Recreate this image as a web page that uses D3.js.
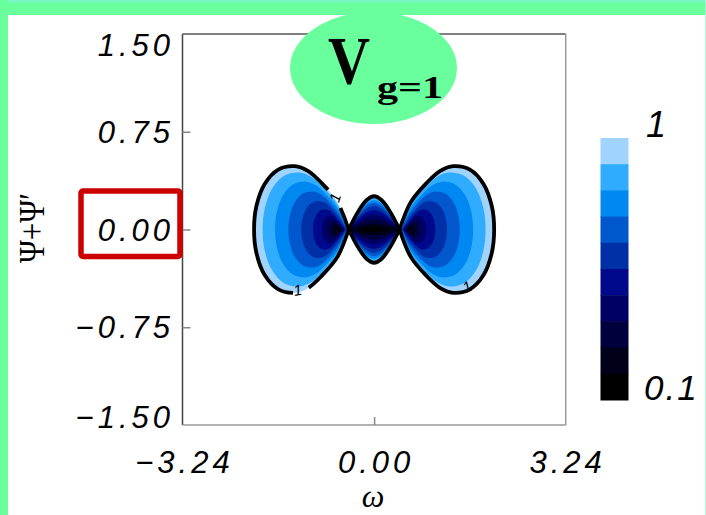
<!DOCTYPE html>
<html>
<head>
<meta charset="utf-8">
<script src="https://cdn.jsdelivr.net/npm/d3@7"></script>
<style>
  html, body { margin: 0; padding: 0; background: #ffffff; }
  svg { display: block; }
</style>
</head>
<body>
<script>
// ---------------- data ----------------
const xDomain = [-3.24, 3.24];
const yDomain = [-1.5, 1.5];
const xTickValues = [-3.24, 0, 3.24];
const xTickLabels = ["\u22123.24", "0.00", "3.24"];
const yTickValues = [1.5, 0.75, 0, -0.75, -1.5];
const yTickLabels = ["1.50", "0.75", "0.00", "\u22120.75", "\u22121.50"];

// contour level colours, from level 1 (outer, light) down to level 0.1 (black)
const levelColors = ["#a0d4ff", "#30acff", "#0088f2", "#0058cc", "#0030a8",
                     "#00088c", "#000064", "#00003c", "#000018", "#000000"];
const colorbarLabels = ["1", "0.1"];

// left lobe: upper half of each filled contour level [omega, psi], tip -> far edge
const lobeLevels = [
  [[-0.43,0],[-0.62,0.21],[-0.89,0.358],[-1.12,0.45],[-1.34,0.486],[-1.62,0.46],[-1.85,0.35],[-1.99,0.18],[-2.03,0]],
  [[-0.44,0],[-0.616,0.189],[-0.859,0.322],[-1.066,0.405],[-1.264,0.437],[-1.516,0.414],[-1.723,0.315],[-1.849,0.162],[-1.885,0]],
  [[-0.45,0],[-0.609,0.159],[-0.813,0.270],[-0.987,0.340],[-1.153,0.367],[-1.364,0.347],[-1.538,0.264],[-1.644,0.136],[-1.674,0]],
  [[-0.46,0],[-0.603,0.126],[-0.765,0.215],[-0.903,0.270],[-1.035,0.292],[-1.203,0.276],[-1.341,0.210],[-1.425,0.108],[-1.449,0]],
  [[-0.47,0],[-0.596,0.095],[-0.718,0.161],[-0.821,0.203],[-0.920,0.219],[-1.046,0.207],[-1.150,0.158],[-1.213,0.081],[-1.231,0]],
  [[-0.48,0],[-0.591,0.066],[-0.676,0.113],[-0.748,0.142],[-0.817,0.153],[-0.906,0.145],[-0.978,0.110],[-1.022,0.057],[-1.035,0]],
  [[-0.50,0],[-0.586,0.044],[-0.643,0.075],[-0.691,0.095],[-0.737,0.102],[-0.796,0.097],[-0.844,0.074],[-0.874,0.038],[-0.882,0]],
  [[-0.52,0],[-0.583,0.028],[-0.619,0.048],[-0.650,0.061],[-0.680,0.066],[-0.718,0.062],[-0.749,0.047],[-0.768,0.024],[-0.773,0]],
  [[-0.54,0],[-0.581,0.018],[-0.604,0.030],[-0.623,0.038],[-0.642,0.041],[-0.666,0.039],[-0.685,0.030],[-0.697,0.015],[-0.701,0]]
];

// centre diamond: upper half of each level, left vertex -> right vertex
const diamondLevels = [
  [[-0.43,0],[-0.27,0.137],[-0.125,0.226],[0,0.255],[0.125,0.226],[0.27,0.137],[0.43,0]],
  [[-0.43,0],[-0.27,0.129],[-0.125,0.213],[0,0.240],[0.125,0.213],[0.27,0.129],[0.43,0]],
  [[-0.43,0],[-0.27,0.121],[-0.125,0.199],[0,0.225],[0.125,0.199],[0.27,0.121],[0.43,0]],
  [[-0.43,0],[-0.27,0.110],[-0.125,0.182],[0,0.205],[0.125,0.182],[0.27,0.110],[0.43,0]],
  [[-0.43,0],[-0.27,0.097],[-0.125,0.160],[0,0.180],[0.125,0.160],[0.27,0.097],[0.43,0]],
  [[-0.43,0],[-0.27,0.081],[-0.125,0.133],[0,0.150],[0.125,0.133],[0.27,0.081],[0.43,0]],
  [[-0.43,0],[-0.27,0.062],[-0.125,0.102],[0,0.115],[0.125,0.102],[0.27,0.062],[0.43,0]],
  [[-0.43,0],[-0.27,0.043],[-0.125,0.071],[0,0.080],[0.125,0.071],[0.27,0.043],[0.43,0]],
  [[-0.43,0],[-0.27,0.024],[-0.125,0.040],[0,0.045],[0.125,0.040],[0.27,0.024],[0.43,0]],
  [[-0.27,0],[-0.17,0.014],[-0.08,0.020],[0,0.022],[0.08,0.020],[0.17,0.014],[0.27,0]]
];

// gaps in the black "1" contour where the labels sit, and the labels
const contourGaps = [
  {w: -0.70, p: 0.226, len: 22},
  {w: -1.25, p: -0.457, len: 17},
  {w: 1.55, p: -0.422, len: 22}
];
const contourLabels = [
  {w: -0.66, p: 0.245, text: "1", angle: -72},
  {w: -1.29, p: -0.465, text: "1", angle: -10},
  {w: 1.57, p: -0.44, text: "1", angle: -25}
];

// ---------------- drawing ----------------
const W = 706, H = 515;
const svg = d3.select("body").append("svg").attr("width", W).attr("height", H);
svg.append("rect").attr("width", W).attr("height", H).attr("fill", "#ffffff");

const x = d3.scaleLinear().domain(xDomain).range([182.5, 565.7]);
const y = d3.scaleLinear().domain(yDomain).range([425, 34]);

const line = d3.line().x(d => x(d[0])).y(d => y(d[1])).curve(d3.curveCatmullRom.alpha(0.5));

function lobePath(upper, side) {
  const lower = upper.slice(0, -1).reverse().map(d => [d[0], -d[1]]);
  const pts = upper.concat(lower).map(d => [side * d[0], d[1]]);
  return line(pts) + "Z";
}
function diamondPath(upper) {
  const lower = upper.slice().reverse().map(d => [d[0], -d[1]]);
  const a = line(upper);
  const b = line(lower).replace(/^M/, "L");
  return a + b + "Z";
}

const gFill = svg.append("g");
[-1, 1].forEach(side => {
  lobeLevels.forEach((lv, i) => {
    gFill.append("path").attr("d", lobePath(lv, side)).attr("fill", levelColors[i]);
  });
});
diamondLevels.forEach((lv, i) => {
  gFill.append("path").attr("d", diamondPath(lv)).attr("fill", levelColors[i]);
});

// black contour lines (level 1)
const gLine = svg.append("g").attr("fill", "none").attr("stroke", "#000")
  .attr("stroke-width", 3.8).attr("stroke-linejoin", "round");
const outlines = [
  gLine.append("path").attr("d", lobePath(lobeLevels[0], -1)),
  gLine.append("path").attr("d", lobePath(lobeLevels[0], 1)),
  gLine.append("path").attr("d", diamondPath(diamondLevels[0]))
];
outlines.forEach(sel => {
  const node = sel.node();
  const L = node.getTotalLength();
  const gaps = [];
  contourGaps.forEach(g => {
    const gx = x(g.w), gy = y(g.p);
    let best = 1e9, bestS = 0;
    for (let s = 0; s <= L; s += 0.5) {
      const pt = node.getPointAtLength(s);
      const d = (pt.x - gx) ** 2 + (pt.y - gy) ** 2;
      if (d < best) { best = d; bestS = s; }
    }
    if (best < 36) gaps.push({s: bestS, len: g.len});
  });
  if (gaps.length) {
    gaps.sort((a, b) => a.s - b.s);
    const dash = [];
    let pos = 0;
    gaps.forEach(g => {
      dash.push(Math.max(0, g.s - g.len / 2 - pos), g.len);
      pos = g.s + g.len / 2;
    });
    dash.push(Math.max(0, L - pos), 0);
    sel.attr("stroke-dasharray", dash.join(" "));
  }
});

// contour labels
contourLabels.forEach(l => {
  svg.append("text")
    .attr("transform", `translate(${x(l.w)},${y(l.p)}) rotate(${l.angle})`)
    .attr("text-anchor", "middle").attr("dy", "0.35em")
    .attr("font-family", "Liberation Sans, sans-serif").attr("font-size", 15)
    .attr("font-style", "italic").attr("fill", "#000").text(l.text);
});

// axes frame
const fx0 = x(xDomain[0]), fx1 = x(xDomain[1]), fy0 = y(yDomain[1]), fy1 = y(yDomain[0]);
svg.append("line").attr("x1", fx0).attr("x2", fx1).attr("y1", fy0).attr("y2", fy0)
  .attr("stroke", "#555").attr("stroke-width", 1.5);
svg.append("line").attr("x1", fx0).attr("x2", fx0).attr("y1", fy0).attr("y2", fy1)
  .attr("stroke", "#444").attr("stroke-width", 1.5);
svg.append("line").attr("x1", fx1).attr("x2", fx1).attr("y1", fy0).attr("y2", fy1)
  .attr("stroke", "#999").attr("stroke-width", 1.5);
svg.append("line").attr("x1", fx0).attr("x2", fx1).attr("y1", fy1).attr("y2", fy1)
  .attr("stroke", "#999").attr("stroke-width", 1.5);

// inward ticks
const yAx = svg.append("g").attr("transform", `translate(${fx0},0)`)
  .call(d3.axisLeft(y).tickValues([0.75, 0, -0.75]).tickSize(-8).tickFormat(""));
yAx.select(".domain").remove();
yAx.selectAll(".tick line").attr("stroke", "#888").attr("stroke-width", 1.5);
const xAx = svg.append("g").attr("transform", `translate(0,${fy1})`)
  .call(d3.axisBottom(x).tickValues([0]).tickSize(-8).tickFormat(""));
xAx.select(".domain").remove();
xAx.selectAll(".tick line").attr("stroke", "#888").attr("stroke-width", 1.5);

// tick labels
const tickFont = "Liberation Sans, Arial, sans-serif";
yTickValues.forEach((v, i) => {
  const cy = Math.min(Math.max(y(v), 44.5), 417);
  svg.append("text").attr("x", 174).attr("y", cy + 11)
    .attr("text-anchor", "end").attr("font-family", tickFont).attr("font-style", "italic")
    .attr("font-size", 31).attr("letter-spacing", 4).attr("fill", "#000")
    .text(yTickLabels[i]);
});
xTickValues.forEach((v, i) => {
  svg.append("text").attr("x", x(v) + 2).attr("y", 473)
    .attr("text-anchor", "middle").attr("font-family", tickFont).attr("font-style", "italic")
    .attr("font-size", 31).attr("letter-spacing", 4).attr("fill", "#000")
    .text(xTickLabels[i]);
});

// axis titles
svg.append("text").attr("x", 373).attr("y", 507).attr("text-anchor", "middle")
  .attr("font-family", "Liberation Serif, serif").attr("font-style", "italic")
  .attr("font-size", 32).attr("fill", "#000").text("\u03C9");
svg.append("text").attr("transform", "translate(44,228) rotate(-90)")
  .attr("text-anchor", "middle").attr("font-family", "Liberation Serif, DejaVu Serif, serif")
  .attr("font-size", 35).attr("textLength", 70).attr("lengthAdjust", "spacingAndGlyphs")
  .attr("fill", "#000").text("\u03A8+\u03A8\u2032");

// title ellipse
svg.append("ellipse").attr("cx", 373.5).attr("cy", 68).attr("rx", 83.5).attr("ry", 56)
  .attr("fill", "#69ff9c");
svg.append("text").attr("x", 328).attr("y", 83)
  .attr("font-family", "Liberation Serif, Times New Roman, serif").attr("font-weight", "bold")
  .attr("font-size", 68).attr("textLength", 42).attr("lengthAdjust", "spacingAndGlyphs")
  .attr("fill", "#000").text("V");
svg.append("text").attr("x", 377).attr("y", 98)
  .attr("font-family", "Liberation Serif, Times New Roman, serif").attr("font-weight", "bold")
  .attr("font-size", 32).attr("textLength", 66).attr("lengthAdjust", "spacingAndGlyphs")
  .attr("fill", "#000").text("g=1");

// green frame
svg.append("rect").attr("x", 0).attr("y", 0).attr("width", W).attr("height", 15).attr("fill", "#69ff9c");
svg.append("rect").attr("x", 0).attr("y", 0).attr("width", W).attr("height", 2.5).attr("fill", "#78f7c4");
svg.append("rect").attr("x", 0).attr("y", 0).attr("width", 8).attr("height", H).attr("fill", "#69ff9c");
svg.append("rect").attr("x", 705).attr("y", 0).attr("width", 1).attr("height", H).attr("fill", "#a6ffd6");

// red highlight box around the 0.00 label
svg.append("rect").attr("x", 81).attr("y", 191).attr("width", 99).attr("height", 65.5)
  .attr("rx", 2).attr("fill", "none").attr("stroke", "#cc0000").attr("stroke-width", 5.5);

// colour bar
const cb = d3.scaleBand().domain(d3.range(levelColors.length)).range([138, 400]).paddingInner(0);
svg.append("g").selectAll("rect").data(levelColors).join("rect")
  .attr("x", 600.5).attr("width", 28)
  .attr("y", (d, i) => cb(i)).attr("height", cb.bandwidth() + 0.5)
  .attr("fill", d => d);
svg.append("text").attr("x", 646).attr("y", 137)
  .attr("font-family", tickFont).attr("font-style", "italic").attr("font-size", 36)
  .attr("fill", "#000").text(colorbarLabels[0]);
svg.append("text").attr("x", 644).attr("y", 400)
  .attr("font-family", tickFont).attr("font-style", "italic").attr("font-size", 35)
  .attr("letter-spacing", 2).attr("fill", "#000").text(colorbarLabels[1]);
</script>
</body>
</html>
